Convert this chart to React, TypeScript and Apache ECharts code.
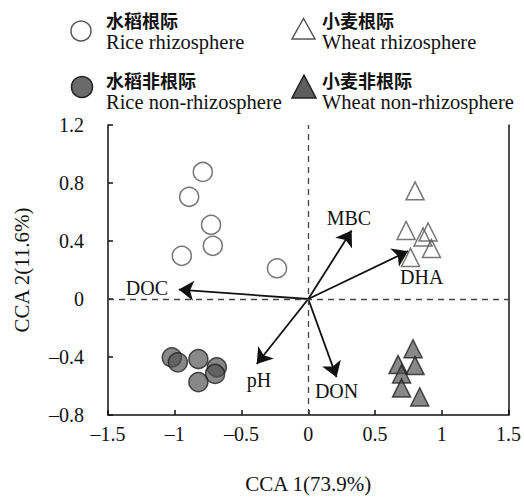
import React, { useEffect, useRef } from "react";
import * as echarts from "echarts";

const riceRhizo = [[-0.79, 0.876], [-0.892, 0.705], [-0.728, 0.512], [-0.715, 0.367], [-0.947, 0.298], [-0.234, 0.212]];
const riceNon = [[-1.022, -0.403], [-0.977, -0.437], [-0.823, -0.414], [-0.685, -0.471], [-0.698, -0.517], [-0.823, -0.573]];
const wheatRhizo = [[0.8, 0.746], [0.733, 0.473], [0.898, 0.462], [0.86, 0.428], [0.923, 0.348], [0.766, 0.287]];
const wheatNon = [[0.785, -0.343], [0.673, -0.452], [0.8, -0.459], [0.699, -0.517], [0.699, -0.614], [0.835, -0.675]];
const envNames = ["MBC", "DHA", "DOC", "pH", "DON"];
const envVectors = [[0.325, 0.473], [0.748, 0.33], [-0.97, 0.065], [-0.386, -0.448], [0.212, -0.539]];
const envLabelPos = [[0.305, 0.56], [0.85, 0.15], [-1.209, 0.075], [-0.369, -0.559], [0.212, -0.634]];
const legendCn = ["水稻根际", "小麦根际", "水稻非根际", "小麦非根际"];
const legendEn = ["Rice rhizosphere", "Wheat rhizosphere", "Rice non-rhizosphere", "Wheat non-rhizosphere"];

const SERIF = "'Times New Roman', 'Liberation Serif', serif";
const CJK = "'Noto Sans CJK SC', sans-serif";
const fmt = (v: number) => String(v).replace("-", "\u2013");

export default function App() {
  const ref = useRef<HTMLDivElement>(null);
  useEffect(() => {
    const chart = echarts.init(ref.current!, null, { renderer: "svg" });
    const openStyle = { color: "rgba(255,255,255,0)", borderColor: "#555", borderWidth: 1.5 };
    const fillStyle = { color: "rgba(80,80,80,0.85)", borderColor: "#222", borderWidth: 1.5 };
    const txt = (x: number, y: number, text: string, cn: boolean) => ({
      type: "text",
      x,
      y,
      style: {
        text,
        fill: "#111",
        fontSize: cn ? 18 : 20.5,
        lineHeight: cn ? 18 : 20,
        fontFamily: cn ? CJK : SERIF,
        fontWeight: cn ? "bold" : "normal",
        textVerticalAlign: "middle",
      },
    });
    const option: any = {
      animation: false,
      grid: { left: 108, right: 15, top: 125, bottom: 81 },
      xAxis: {
        type: "value",
        min: -1.5,
        max: 1.5,
        interval: 0.5,
        name: "CCA 1(73.9%)",
        nameLocation: "middle",
        nameGap: 58,
        nameTextStyle: { fontFamily: SERIF, fontSize: 21, color: "#111" },
        axisLine: { onZero: false, lineStyle: { color: "#111", width: 1.5 } },
        axisTick: { inside: true, length: 5, lineStyle: { color: "#111", width: 1.5 } },
        axisLabel: { formatter: fmt, fontFamily: SERIF, fontSize: 20, color: "#111", margin: 9 },
        splitLine: { show: false },
      },
      yAxis: [
        {
          type: "value",
          min: -0.8,
          max: 1.2,
          interval: 0.4,
          name: "CCA 2(11.6%)",
          nameLocation: "middle",
          nameGap: 76,
          nameTextStyle: { fontFamily: SERIF, fontSize: 21, color: "#111" },
          axisLine: { onZero: false, lineStyle: { color: "#111", width: 1.5 } },
          axisTick: { inside: true, length: 5, lineStyle: { color: "#111", width: 1.5 } },
          axisLabel: { formatter: fmt, fontFamily: SERIF, fontSize: 20, color: "#111", margin: 24 },
          splitLine: { show: false },
        },
        {
          type: "value",
          position: "right",
          min: -0.8,
          max: 1.2,
          interval: 0.4,
          axisLine: { show: true, onZero: false, lineStyle: { color: "#111", width: 1.5 } },
          axisTick: { show: false },
          axisLabel: { show: false },
          splitLine: { show: false },
        },
      ],
      graphic: [
        { type: "circle", shape: { cx: 81, cy: 31, r: 10 }, style: { fill: "none", stroke: "#555", lineWidth: 1.5 } },
        { type: "polygon", shape: { points: [[303.5, 18.5], [292, 39], [315, 39]] }, style: { fill: "none", stroke: "#555", lineWidth: 1.5 } },
        { type: "circle", shape: { cx: 82, cy: 87, r: 10.5 }, style: { fill: "#6a6a6a", stroke: "#222", lineWidth: 1.5 } },
        { type: "polygon", shape: { points: [[304, 75], [292, 98], [316, 98]] }, style: { fill: "#5e5e5e", stroke: "#222", lineWidth: 1.5 } },
        txt(106, 19.5, legendCn[0], true),
        txt(106, 42, legendEn[0], false),
        txt(322, 19.5, legendCn[1], true),
        txt(322, 42, legendEn[1], false),
        txt(106, 80, legendCn[2], true),
        txt(106, 102, legendEn[2], false),
        txt(322, 80, legendCn[3], true),
        txt(322, 102, legendEn[3], false),
      ],
      series: [
        {
          type: "scatter",
          data: [],
          markLine: {
            silent: true,
            symbol: "none",
            label: { show: false },
            lineStyle: { type: [6, 5], color: "#444", width: 1.3 },
            data: [{ xAxis: 0 }, { yAxis: 0 }],
          },
        },
        {
          type: "lines",
          coordinateSystem: "cartesian2d",
          symbol: ["none", "arrow"],
          symbolSize: [11, 15],
          lineStyle: { color: "#111", width: 1.8, opacity: 1 },
          data: envVectors.map((v) => ({ coords: [[0, 0], v] })),
          z: 3,
        },
        {
          type: "scatter",
          symbolSize: 1,
          itemStyle: { color: "transparent", opacity: 1 },
          label: {
            show: true,
            position: "inside",
            formatter: (p: any) => envNames[p.dataIndex],
            fontFamily: SERIF,
            fontSize: 20,
            color: "#111",
            opacity: 1,
            textBorderWidth: 0,
          },
          data: envLabelPos,
          z: 4,
        },
        { type: "scatter", symbol: "circle", symbolSize: 19, itemStyle: openStyle, data: riceRhizo, z: 5 },
        { type: "scatter", symbol: "triangle", symbolSize: 18, itemStyle: openStyle, data: wheatRhizo, z: 5 },
        { type: "scatter", symbol: "circle", symbolSize: 19, itemStyle: fillStyle, data: riceNon, z: 5 },
        { type: "scatter", symbol: "triangle", symbolSize: 18, itemStyle: fillStyle, data: wheatNon, z: 5 },
      ],
    };
    chart.setOption(option);
    return () => chart.dispose();
  }, []);
  return <div ref={ref} style={{ position: "fixed", left: 0, top: 0, width: 524, height: 499, background: "#fff" }} />;
}
